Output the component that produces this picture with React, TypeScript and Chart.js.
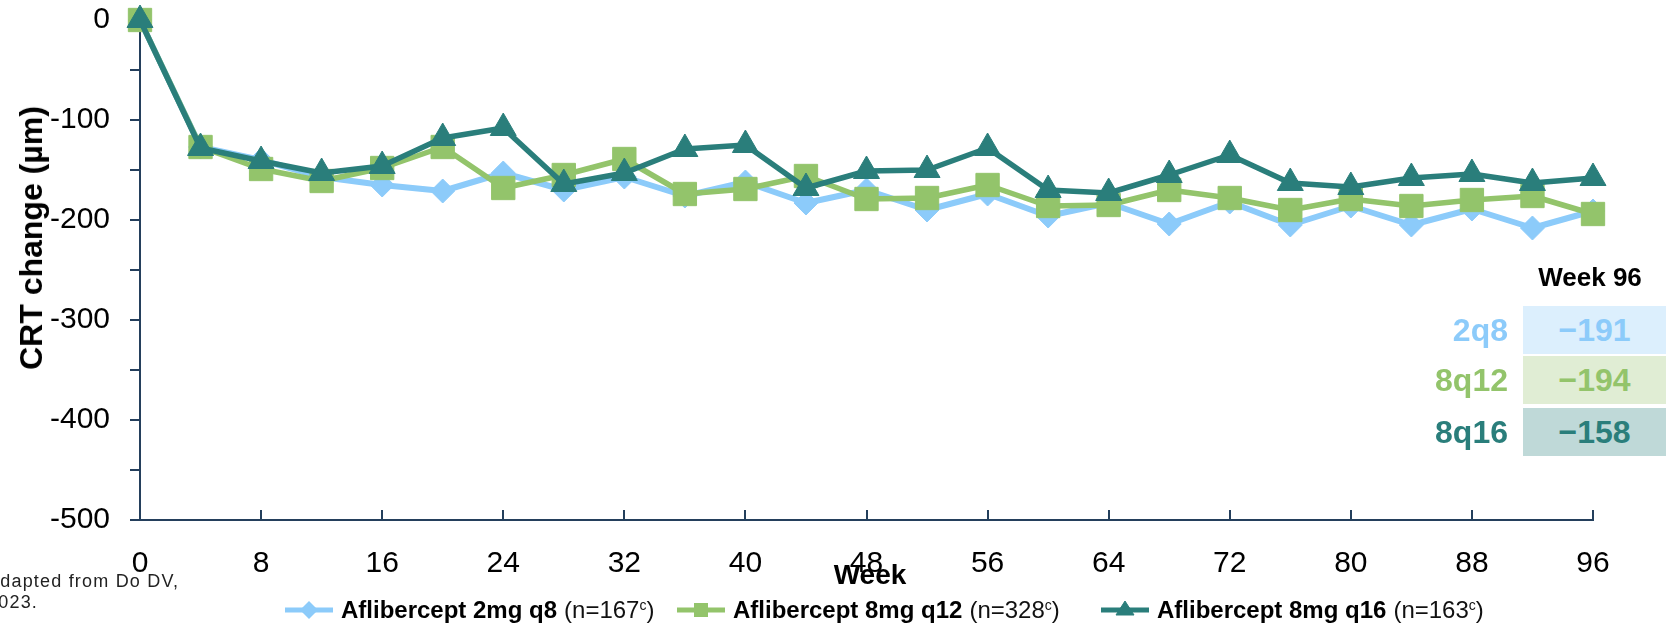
import React, { useEffect, useRef } from 'react';
import { Chart, registerables } from 'chart.js';

Chart.register(...registerables);

// ---------- data ----------
const weeks = [0, 4, 8, 12, 16, 20, 24, 28, 32, 36, 40, 44, 48, 52, 56, 60, 64, 68, 72, 76, 80, 84, 88, 92, 96];
const aflib2q8 = [0, -127, -140, -157, -165, -171, -153, -170, -157, -176, -162, -183, -170, -190, -174, -196, -183, -204, -182, -205, -186, -205, -189, -208, -191];
const aflib8q12 = [0, -127, -149, -161, -148, -127, -168, -155, -139, -174, -169, -156, -179, -178, -165, -186, -185, -170, -178, -190, -179, -186, -180, -176, -194];
const aflib8q16 = [0, -128, -141, -153, -146, -118, -108, -164, -153, -129, -125, -168, -151, -150, -128, -170, -173, -155, -135, -163, -167, -158, -154, -163, -158];
const xTickValues = [0, 8, 16, 24, 32, 40, 48, 56, 64, 72, 80, 88, 96];
const yTickValues = [0, -100, -200, -300, -400, -500];
const seriesNames = ['Aflibercept 2mg q8', 'Aflibercept 8mg q12', 'Aflibercept 8mg q16'];
const seriesN = ['167', '328', '163'];
const shortNames = ['2q8', '8q12', '8q16'];

const BLUE = '#8CCBFA';
const GREEN = '#93C46B';
const TEAL = '#2A7E7B';
const AXIS = '#243F5C';
const BG = ['#DCEFFD', '#E0EDD4', '#BFD9D8'];
const COLORS = [BLUE, GREEN, TEAL];
const SERIES = [aflib2q8, aflib8q12, aflib8q16];

const toPts = (arr: number[]) => weeks.map((w, i) => ({ x: w, y: arr[i] }));

const innerTicks = {
  id: 'innerTicks',
  beforeDatasetsDraw(chart: any) {
    const { ctx, chartArea, scales } = chart;
    const x = scales.x;
    ctx.save();
    ctx.strokeStyle = AXIS;
    ctx.lineWidth = 2;
    xTickValues.forEach((v) => {
      const px = Math.round(x.getPixelForValue(v));
      ctx.beginPath();
      ctx.moveTo(px, chartArea.bottom - 10);
      ctx.lineTo(px, chartArea.bottom);
      ctx.stroke();
    });
    ctx.restore();
  },
};

function LegendMarker({ kind, color }: { kind: number; color: string }) {
  return (
    <svg width={48} height={22} style={{ display: 'block' }}>
      <line x1={0} y1={11} x2={48} y2={11} stroke={color} strokeWidth={5} />
      {kind === 0 && <polygon points="24,2 33,11 24,20 15,11" fill={color} />}
      {kind === 1 && <rect x={17} y={4} width={14} height={14} fill={color} />}
      {kind === 2 && <polygon points="24,2 33,16 15,16" fill={color} strokeLinejoin="round" stroke={color} strokeWidth={1} />}
    </svg>
  );
}

export default function App() {
  const ref = useRef<HTMLCanvasElement | null>(null);

  useEffect(() => {
    if (!ref.current) return;
    const font = { family: '"Liberation Sans", Arial, sans-serif', size: 30 };
    const chart = new Chart(ref.current, {
      type: 'line',
      data: {
        datasets: [
          {
            label: seriesNames[2],
            data: toPts(aflib8q16),
            borderColor: TEAL,
            backgroundColor: TEAL,
            borderWidth: 5.5,
            pointStyle: 'triangle',
            pointRadius: 15,
            pointBorderWidth: 1,
            pointBorderColor: TEAL,
            pointBackgroundColor: TEAL,
            borderJoinStyle: 'round',
            tension: 0,
            clip: false,
            order: 0,
          },
          {
            label: seriesNames[1],
            data: toPts(aflib8q12),
            borderColor: GREEN,
            backgroundColor: GREEN,
            borderWidth: 5.5,
            pointStyle: 'rect',
            pointRadius: 16.5,
            pointBorderWidth: 1,
            pointBorderColor: GREEN,
            pointBackgroundColor: GREEN,
            borderJoinStyle: 'round',
            tension: 0,
            clip: false,
            order: 1,
          },
          {
            label: seriesNames[0],
            data: toPts(aflib2q8),
            borderColor: BLUE,
            backgroundColor: BLUE,
            borderWidth: 6,
            pointStyle: 'rectRot',
            pointRadius: 12,
            pointBorderWidth: 1,
            pointBorderColor: BLUE,
            pointBackgroundColor: BLUE,
            borderJoinStyle: 'round',
            tension: 0,
            clip: false,
            order: 2,
          },
        ] as any,
      },
      options: {
        animation: false,
        responsive: false,
        maintainAspectRatio: false,
        events: [],
        layout: { padding: { top: 20, right: 79, left: 0, bottom: 0 } },
        plugins: { legend: { display: false }, tooltip: { enabled: false }, title: { display: false } },
        scales: {
          x: {
            type: 'linear',
            min: 0,
            max: 96,
            afterFit: (s: any) => {
              s.height = 107;
              s.paddingLeft = 0;
              s.paddingRight = 0;
            },
            grid: { display: false, drawTicks: false },
            border: { display: true, color: AXIS, width: 2 },
            ticks: {
              stepSize: 8,
              padding: 26,
              color: '#000',
              font,
              maxRotation: 0,
              autoSkip: false,
              callback: (v: any) => (xTickValues.includes(Number(v)) ? String(v) : ''),
            },
          },
          y: {
            type: 'linear',
            min: -500,
            max: 0,
            afterFit: (s: any) => {
              s.width = 140;
              s.paddingTop = 0;
              s.paddingBottom = 0;
            },
            grid: {
              display: true,
              drawOnChartArea: false,
              drawTicks: true,
              tickLength: 10,
              color: AXIS,
              tickColor: AXIS,
              lineWidth: 2,
              tickWidth: 2,
            },
            border: { display: true, color: AXIS, width: 2 },
            ticks: {
              stepSize: 50,
              padding: 20,
              color: '#000',
              font,
              autoSkip: false,
              callback: (v: any) => (yTickValues.includes(Number(v)) ? String(v) : ''),
            },
          },
        } as any,
      },
      plugins: [innerTicks],
    });
    return () => chart.destroy();
  }, []);

  const legendTextLeft = [341, 733, 1157];
  const rowTops = [306, 356, 408];

  return (
    <div
      style={{
        position: 'fixed',
        left: 0,
        top: 0,
        width: 1672,
        height: 627,
        background: '#fff',
        overflow: 'hidden',
        fontFamily: '"Liberation Sans", Arial, sans-serif',
      }}
    >
      <canvas ref={ref} width={1672} height={627} style={{ display: 'block', width: 1672, height: 627 }} />

      {/* y axis title */}
      <div
        style={{
          position: 'absolute',
          left: 31,
          top: 238,
          transform: 'translate(-50%, -50%) rotate(-90deg)',
          whiteSpace: 'nowrap',
          fontWeight: 700,
          fontSize: 32,
          lineHeight: '32px',
          color: '#000',
        }}
      >
        CRT change (µm)
      </div>

      {/* x axis title */}
      <div
        style={{
          position: 'absolute',
          left: 870,
          top: 575,
          transform: 'translate(-50%, -50%)',
          whiteSpace: 'nowrap',
          fontWeight: 700,
          fontSize: 28,
          lineHeight: '28px',
          color: '#000',
        }}
      >
        Week
      </div>

      {/* footnote (cut at the left edge) */}
      <div
        style={{
          position: 'absolute',
          left: -13,
          top: 571,
          fontSize: 18,
          lineHeight: '21px',
          letterSpacing: 1.2,
          color: '#222',
          whiteSpace: 'nowrap',
        }}
      >
        <div>Adapted from Do DV,</div>
        <div>2023.</div>
      </div>

      {/* legend */}
      {seriesNames.map((name, i) => (
        <div
          key={name}
          style={{
            position: 'absolute',
            left: legendTextLeft[i] - 56,
            top: 610,
            transform: 'translateY(-50%)',
            display: 'flex',
            alignItems: 'center',
            whiteSpace: 'nowrap',
            color: '#000',
          }}
        >
          <LegendMarker kind={i} color={COLORS[i]} />
          <span style={{ marginLeft: 8, fontWeight: 700, fontSize: 24 }}>{name}</span>
          <span style={{ marginLeft: 7, fontSize: 24, color: '#111' }}>
            (n={seriesN[i]}
            <sup style={{ fontSize: 14, verticalAlign: 'top', position: 'relative', top: 1 }}>c</sup>)
          </span>
        </div>
      ))}

      {/* week 96 table */}
      <div
        style={{
          position: 'absolute',
          left: 1590,
          top: 277,
          transform: 'translate(-50%, -50%)',
          fontWeight: 700,
          fontSize: 26,
          whiteSpace: 'nowrap',
          color: '#000',
        }}
      >
        Week 96
      </div>
      {SERIES.map((arr, i) => (
        <React.Fragment key={shortNames[i]}>
          <div
            style={{
              position: 'absolute',
              left: 1400,
              width: 1508 - 1400,
              top: rowTops[i],
              height: 48,
              display: 'flex',
              alignItems: 'center',
              justifyContent: 'flex-end',
              fontWeight: 700,
              fontSize: 32,
              color: COLORS[i],
            }}
          >
            {shortNames[i]}
          </div>
          <div
            style={{
              position: 'absolute',
              left: 1523,
              width: 143,
              top: rowTops[i],
              height: 48,
              background: BG[i],
              display: 'flex',
              alignItems: 'center',
              justifyContent: 'center',
              fontWeight: 700,
              fontSize: 32,
              color: COLORS[i],
            }}
          >
            {'\u2212' + Math.abs(arr[arr.length - 1])}
          </div>
        </React.Fragment>
      ))}
    </div>
  );
}
